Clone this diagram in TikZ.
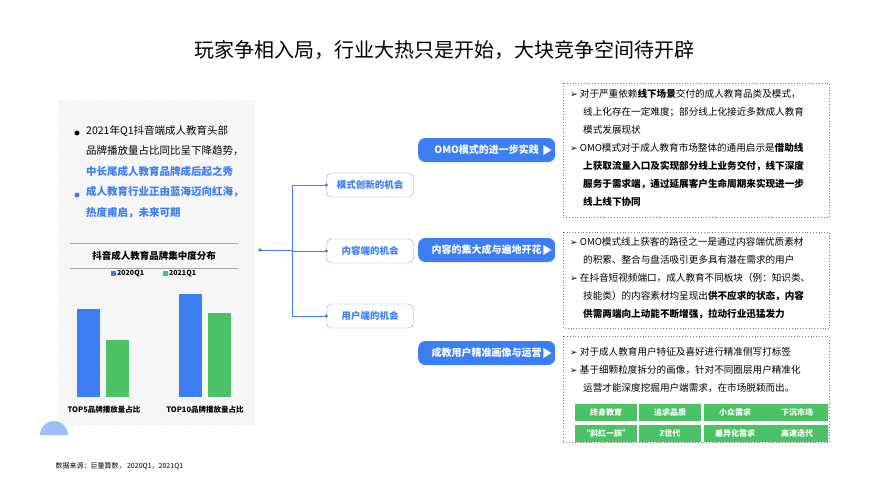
\documentclass[tikz,border=0pt]{standalone}
\usepackage{fontspec}
\setmainfont{Noto Sans CJK SC}
\newfontfamily\symfont{DejaVu Sans}
\usetikzlibrary{positioning,patterns}
\definecolor{mainblue}{HTML}{3D7EF5}
\definecolor{maingreen}{HTML}{4CC267}
\definecolor{panelgray}{HTML}{F3F3F3}
\tikzset{
  opbox/.style={draw=mainblue!70,rounded corners=5pt,fill=white,minimum width=87pt,minimum height=24pt,text=mainblue,font=\fontsize{9.5}{9.5}\selectfont\bfseries},
  topic/.style={fill=mainblue,rounded corners=7pt,minimum width=137pt,minimum height=24pt,text=white,font=\fontsize{10}{10}\selectfont\bfseries,anchor=west},
  notebox/.style={draw=gray,dotted,thick},
  notetext/.style={anchor=north west,align=left,inner sep=0pt,font=\fontsize{9.6}{18}\selectfont},
  tag/.style={fill=maingreen,minimum width=62pt,minimum height=17pt,text=white,font=\fontsize{8}{8}\selectfont\bfseries,inner sep=0pt},
  link/.style={mainblue,thick}
}
\newcommand{\arr}{{\symfont\fontsize{9}{9}\selectfont ➢}\ }
\begin{document}
\begin{tikzpicture}[x=1pt,y=-1pt]
\useasboundingbox (0,0) rectangle (888,500);
\node (title) at (444,50) {\fontsize{20}{20}\selectfont 玩家争相入局，行业大热只是开始，大块竞争空间待开辟};
% left panel
\fill[panelgray] (58,100) rectangle (255,425);
\fill[pattern=north east lines,pattern color=white] (58,100) rectangle (255,425);
\fill[mainblue!50] (40,435) arc (180:360:14) -- cycle;
\fill[black] (77,133) circle (2.5);
\fill[mainblue] (77,195) circle (2.5);
\node[notetext,font=\fontsize{10.5}{20.5}\selectfont] (intro) at (86,125)
  {2021年Q1抖音端成人教育头部\\品牌播放量占比同比呈下降趋势，\\
   \textcolor{mainblue}{\bfseries 中长尾成人教育品牌成后起之秀}\\
   \textcolor{mainblue}{\bfseries 成人教育行业正由蓝海迈向红海，}\\
   \textcolor{mainblue}{\bfseries 热度甫启，未来可期}};
\draw[gray!70,thick] (70,243) -- (238,243);
\draw[gray!70,thick] (70,268) -- (238,268);
\node[font=\fontsize{9.5}{9.5}\selectfont\bfseries] (charttitle) at (154,256) {抖音成人教育品牌集中度分布};
\fill[mainblue] (111,271) rectangle (116,276);
\node[anchor=west,font=\fontsize{7}{7}\selectfont\bfseries,inner sep=1pt] (leg1) at (116,274) {2020Q1};
\fill[maingreen] (163,271) rectangle (168,276);
\node[anchor=west,font=\fontsize{7}{7}\selectfont\bfseries,inner sep=1pt] (leg2) at (168,274) {2021Q1};
\fill[mainblue] (77,309) rectangle (100,397);
\fill[maingreen] (106,340) rectangle (129,397);
\fill[mainblue] (179,294) rectangle (202,397);
\fill[maingreen] (208,313) rectangle (231,397);
\node[font=\fontsize{7.5}{7.5}\selectfont\bfseries] (cat1) at (104,410) {TOP5品牌播放量占比};
\node[font=\fontsize{7.5}{7.5}\selectfont\bfseries] (cat2) at (205,410) {TOP10品牌播放量占比};
\node[anchor=west,font=\fontsize{7}{7}\selectfont] (source) at (52,466) {数据来源：巨量算数， 2020Q1，2021Q1};
% tree
\coordinate (root) at (260,250);
\coordinate (fork) at (292,250);
\node[opbox] (mode) at (370,185) {模式创新的机会};
\node[opbox] (content) at (370,251) {内容端的机会};
\node[opbox] (user) at (370,316) {用户端的机会};
\fill[mainblue] (root) circle (1.8);
\draw[link] (root) -- (fork);
\foreach \n in {mode,content,user}{
  \draw[link] (fork) |- (\n.west);
  \fill[mainblue] (\n.west) circle (1.8);
}
% topics
\foreach \n/\y/\t in {omo/150/OMO模式的进一步实践,mass/250/内容的集大成与遍地开花,portrait/353/成教用户精准画像与运营}{
  \node[topic] (\n) at (418,\y) {\t\hspace{14pt}};
  \fill[white] ([xshift=-12pt,yshift=5pt]\n.east) -- ([xshift=-4pt]\n.east) -- ([xshift=-12pt,yshift=-5pt]\n.east) -- cycle;
}
% notes
\draw[notebox] (563,83) rectangle (829,217);
\node[notetext] (note1) at (570,89)
  {\arr 对于严重依赖\textbf{线下场景}交付的成人教育品类及模式，\\
   \hspace{13pt}线上化存在一定难度；部分线上化接近多数成人教育\\
   \hspace{13pt}模式发展现状\\
   \arr OMO模式对于成人教育市场整体的通用启示是\textbf{借助线}\\
   \hspace{13pt}\textbf{上获取流量入口及实现部分线上业务交付，线下深度}\\
   \hspace{13pt}\textbf{服务于需求端，通过延展客户生命周期来实现进一步}\\
   \hspace{13pt}\textbf{线上线下协同}};
\draw[notebox] (563,232) rectangle (829,328);
\node[notetext] (note2) at (570,237)
  {\arr OMO模式线上获客的路径之一是通过内容端优质素材\\
   \hspace{13pt}的积累、整合与盘活吸引更多具有潜在需求的用户\\
   \arr 在抖音短视频端口，成人教育不同板块（例：知识类、\\
   \hspace{13pt}技能类）的内容素材均呈现出\textbf{供不应求的状态，内容}\\
   \hspace{13pt}\textbf{供需两端向上动能不断增强，拉动行业迅猛发力}};
\draw[notebox] (563,336) rectangle (829,442);
\node[notetext] (note3) at (570,347)
  {\arr 对于成人教育用户特征及喜好进行精准侧写打标签\\
   \arr 基于细颗粒度拆分的画像，针对不同圈层用户精准化\\
   \hspace{13pt}运营才能深度挖掘用户端需求，在市场脱颖而出。};
\foreach \x/\a/\b in {606/终身教育/“斜红一族”,670/追求品质/Z世代,735/小众需求/差异化需求,797/下沉市场/高速迭代}{
  \node[tag] at (\x,412) {\a};
  \node[tag] at (\x,433) {\b};
}
\end{tikzpicture}
\end{document}
